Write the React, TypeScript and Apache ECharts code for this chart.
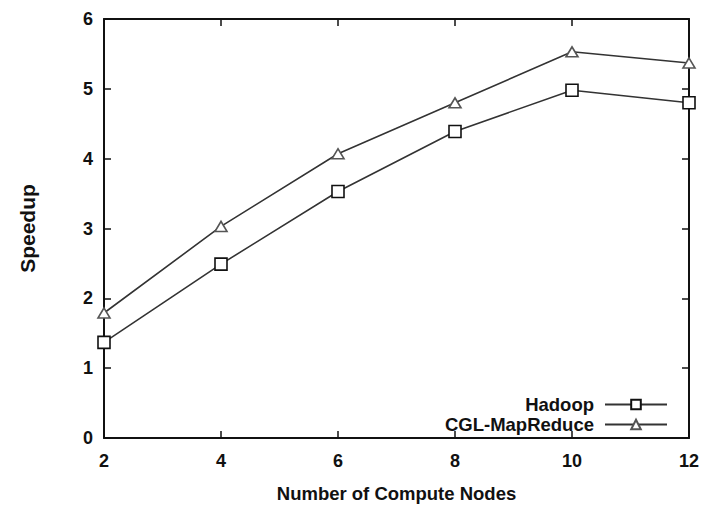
import React, { useEffect, useRef } from "react";
import * as echarts from "echarts";

const nodes = [2, 4, 6, 8, 10, 12];
const hadoop = [1.37, 2.49, 3.53, 4.39, 4.98, 4.8];
const cgl = [1.79, 3.03, 4.07, 4.8, 5.53, 5.37];
const seriesNames = ["Hadoop", "CGL-MapReduce"];

const FONT = "Liberation Sans, Arial, sans-serif";

export default function App() {
  const ref = useRef<HTMLDivElement>(null);
  useEffect(() => {
    if (!ref.current) return;
    const chart = echarts.init(ref.current, null, { renderer: "svg" });
    const axisLine = { show: true, onZero: false, lineStyle: { color: "#111", width: 2 } };
    const tick = { show: true, inside: true, length: 7, lineStyle: { color: "#111", width: 1.5 } };
    chart.setOption({
      animation: false,
      backgroundColor: "#fff",
      textStyle: { fontFamily: FONT },
      grid: {
        left: 104,
        right: 23,
        top: 19,
        bottom: 66,
        containLabel: false,
      },
      legend: {
        data: seriesNames,
        orient: "vertical",
        align: "right",
        right: 39,
        top: 390,
        itemWidth: 62,
        itemHeight: 12,
        itemGap: 1,
        textStyle: { fontFamily: FONT, fontWeight: "bold", fontSize: 18.5, color: "#111", padding: [0, 6, 0, 0] },
      },
      xAxis: [
        {
          type: "value",
          min: 2,
          max: 12,
          interval: 2,
          name: "Number of Compute Nodes",
          nameLocation: "middle",
          nameGap: 46,
          nameTextStyle: { fontFamily: FONT, fontWeight: "bold", fontSize: 18.5, color: "#111" },
          axisLine,
          axisTick: tick,
          splitLine: { show: false },
          axisLabel: { fontFamily: FONT, fontWeight: "bold", fontSize: 18, color: "#111", margin: 14 },
        },
        {
          type: "value",
          position: "top",
          min: 2,
          max: 12,
          interval: 2,
          axisLine,
          axisTick: tick,
          splitLine: { show: false },
          axisLabel: { show: false },
        },
      ],
      yAxis: [
        {
          type: "value",
          min: 0,
          max: 6,
          interval: 1,
          name: "Speedup",
          nameLocation: "middle",
          nameGap: 66,
          nameRotate: 90,
          nameTextStyle: { fontFamily: FONT, fontWeight: "bold", fontSize: 21, color: "#111" },
          axisLine,
          axisTick: tick,
          splitLine: { show: false },
          axisLabel: { fontFamily: FONT, fontWeight: "bold", fontSize: 18, color: "#111", margin: 11 },
        },
        {
          type: "value",
          position: "right",
          min: 0,
          max: 6,
          interval: 1,
          axisLine,
          axisTick: tick,
          splitLine: { show: false },
          axisLabel: { show: false },
        },
      ],
      series: [
        {
          name: seriesNames[0],
          type: "line",
          data: nodes.map((n, i) => [n, hadoop[i]]),
          symbol: "rect",
          symbolSize: 12,
          lineStyle: { color: "#333", width: 1.6 },
          itemStyle: { color: "#fff", borderColor: "#111", borderWidth: 1.6 },
        },
        {
          name: seriesNames[1],
          type: "line",
          data: nodes.map((n, i) => [n, cgl[i]]),
          symbol: "triangle",
          symbolSize: [12, 10],
          lineStyle: { color: "#333", width: 1.6 },
          itemStyle: { color: "#fff", borderColor: "#555", borderWidth: 1.6 },
        },
      ],
    });
    return () => chart.dispose();
  }, []);
  return (
    <div style={{ position: "absolute", left: 0, top: 0, width: 712, height: 508, background: "#fff" }}>
      <div ref={ref} style={{ width: 712, height: 508 }} />
    </div>
  );
}
